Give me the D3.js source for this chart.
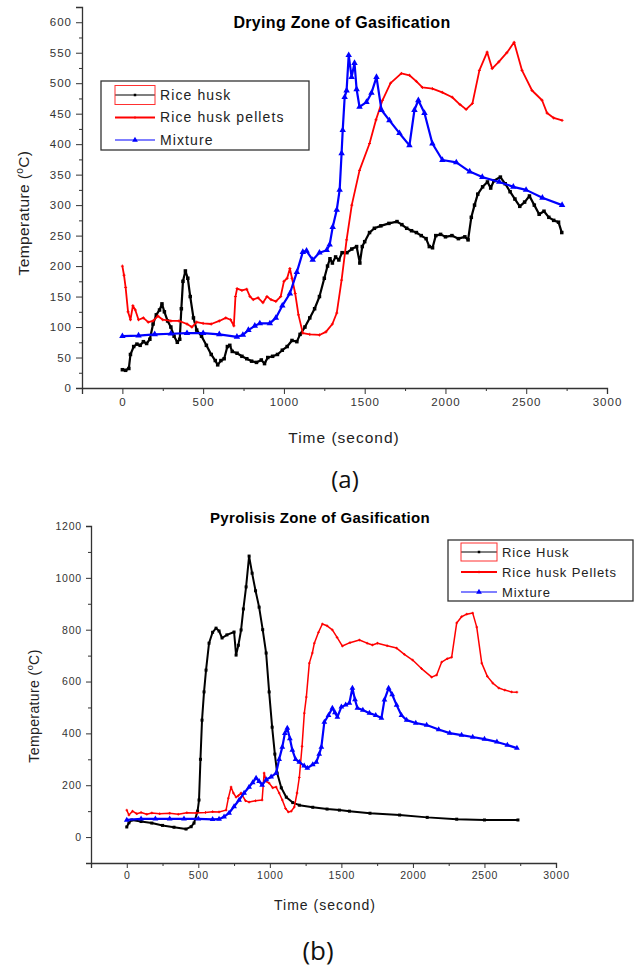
<!DOCTYPE html>
<html>
<head>
<meta charset="utf-8">
<script src="https://cdn.jsdelivr.net/npm/d3@7"></script>
<style>
  body { margin: 0; background: #fff; }
  svg, svg text { font-family: "Liberation Sans", Arial, sans-serif; }
  .tick text { fill: #333; }
</style>
</head>
<body>
<script>

// ---------------- DATA (time in s, temperature in degC) ----------------

// (a) Drying zone
const riceHuskA = [[0,30],[20,29],[40,32],[50,55],[70,68],[90,72],[110,70],[130,76],[150,73],[170,80],[190,105],[210,120],[230,128],[245,138],[260,125],[280,110],[300,100],[320,85],[340,75],[355,80],[365,130],[375,175],[390,192],[405,180],[420,150],[440,115],[460,95],[490,85],[520,70],[550,55],[575,45],[590,38],[610,45],[630,48],[650,68],[665,70],[680,60],[710,57],[740,52],[770,48],[800,44],[830,42],[860,46],[880,40],[900,50],[930,52],[960,55],[990,62],[1020,68],[1050,78],[1080,76],[1100,88],[1130,100],[1160,115],[1190,130],[1220,150],[1250,180],[1270,200],[1285,212],[1300,205],[1320,215],[1340,210],[1360,222],[1390,222],[1420,228],[1450,232],[1470,205],[1485,232],[1500,240],[1530,255],[1560,262],[1600,266],[1650,270],[1700,273],[1730,268],[1760,262],[1790,258],[1820,255],[1850,250],[1880,245],[1900,232],[1920,230],[1940,250],[1970,252],[2000,248],[2040,250],[2080,245],[2120,248],[2140,243],[2160,280],[2180,300],[2200,318],[2230,330],[2260,338],[2280,328],[2300,340],[2340,346],[2370,335],[2400,322],[2430,310],[2460,298],[2490,305],[2520,315],[2550,300],[2580,285],[2610,290],[2640,280],[2670,275],[2700,272],[2720,255]];

const pelletsA = [[0,200],[10,185],[20,165],[35,125],[50,112],[65,135],[80,128],[100,112],[130,115],[160,108],[190,110],[220,118],[250,112],[300,110],[350,110],[400,105],[430,100],[460,108],[500,106],[550,105],[600,110],[640,115],[670,112],[690,102],[700,150],[710,163],[740,160],[770,162],[790,150],[810,145],[840,148],[870,140],[895,150],[920,145],[950,142],[980,150],[1000,175],[1020,180],[1037,196],[1050,180],[1070,155],[1090,120],[1117,90],[1160,88],[1220,87],[1260,92],[1300,105],[1327,123],[1357,177],[1388,243],[1420,300],[1468,357],[1530,401],[1570,440],[1610,472],[1660,500],[1727,516],[1777,513],[1820,503],[1857,493],[1919,491],[1980,485],[2042,477],[2090,465],[2128,457],[2167,467],[2210,521],[2258,551],[2289,524],[2330,535],[2380,550],[2425,567],[2474,521],[2536,488],[2598,472],[2629,451],[2670,443],[2722,439]];

const mixtureA = [[0,85],[100,86],[200,88],[300,89],[400,90],[500,90],[600,88],[709,84],[746,87],[780,95],[820,102],[851,106],[913,106],[950,115],[990,135],[1037,155],[1080,190],[1117,223],[1140,225],[1178,210],[1220,222],[1265,226],[1283,235],[1302,264],[1327,292],[1345,325],[1357,385],[1364,423],[1376,477],[1388,488],[1401,546],[1419,510],[1437,533],[1450,490],[1468,461],[1511,469],[1542,484],[1573,510],[1604,456],[1653,439],[1715,418],[1777,398],[1808,456],[1832,472],[1870,451],[1919,401],[1981,374],[2067,370],[2150,355],[2228,346],[2333,338],[2420,330],[2499,325],[2600,312],[2722,300]];

// (b) Pyrolysis zone
const riceHuskB = [[0,39],[15,55],[35,66],[100,60],[175,54],[250,45],[330,38],[414,31],[450,40],[470,54],[495,100],[505,143],[515,300],[526,451],[540,560],[554,644],[575,748],[600,790],[624,806],[645,795],[666,768],[700,780],[750,791],[764,702],[780,740],[799,799],[815,880],[834,965],[855,1084],[876,1018],[900,950],[925,887],[950,800],[974,710],[995,560],[1016,424],[1035,320],[1051,247],[1080,190],[1115,154],[1160,133],[1206,123],[1300,115],[1400,108],[1486,104],[1556,100],[1700,92],[1907,85],[2100,76],[2306,69],[2500,66],[2734,66]];

const pelletsB = [[0,104],[15,85],[40,100],[70,90],[100,95],[140,88],[175,93],[230,90],[300,92],[360,88],[420,94],[484,93],[550,95],[600,98],[645,97],[694,104],[710,150],[729,193],[745,170],[764,154],[780,160],[799,170],[830,140],[855,135],[900,140],[946,143],[960,247],[975,215],[995,208],[1020,190],[1044,193],[1065,170],[1087,143],[1110,110],[1129,97],[1150,100],[1171,116],[1190,170],[1206,230],[1225,350],[1241,478],[1255,540],[1276,671],[1297,710],[1311,748],[1340,790],[1367,822],[1400,815],[1437,799],[1470,770],[1507,737],[1560,750],[1626,760],[1680,748],[1717,741],[1752,748],[1820,738],[1886,729],[1940,705],[1998,683],[2060,650],[2131,617],[2166,625],[2201,675],[2240,688],[2271,694],[2306,826],[2340,850],[2376,860],[2418,864],[2446,810],[2481,671],[2520,620],[2558,594],[2600,575],[2642,567],[2690,560],[2727,559]];

const mixtureB = [[0,66],[100,70],[200,70],[300,70],[400,70],[500,70],[600,68],[645,69],[680,78],[715,93],[750,118],[785,143],[820,170],[855,193],[880,210],[904,228],[925,215],[946,201],[975,222],[1009,232],[1044,247],[1065,300],[1087,347],[1105,400],[1122,420],[1140,380],[1157,336],[1180,300],[1206,289],[1240,275],[1262,266],[1300,280],[1325,289],[1345,320],[1360,347],[1381,444],[1410,470],[1437,498],[1455,480],[1472,463],[1500,502],[1530,510],[1556,517],[1577,575],[1595,530],[1612,498],[1650,490],[1696,478],[1740,470],[1780,459],[1801,529],[1830,575],[1855,550],[1886,509],[1920,470],[1956,451],[2020,440],[2096,432],[2180,415],[2257,401],[2340,393],[2418,386],[2500,378],[2587,367],[2660,355],[2727,343]];

// ticks
const xTicks = [0, 500, 1000, 1500, 2000, 2500, 3000];
const xMinor = [-250, 250, 750, 1250, 1750, 2250, 2750];
const yTicksA = [0, 50, 100, 150, 200, 250, 300, 350, 400, 450, 500, 550, 600];
const yMinorA = [25, 75, 125, 175, 225, 275, 325, 375, 425, 475, 525, 575, 625];
const yTicksB = [0, 200, 400, 600, 800, 1000, 1200];
const yMinorB = [-100, 100, 300, 500, 700, 900, 1100];

const namesA = ["Rice husk", "Rice husk pellets", "Mixture"];
const namesB = ["Rice Husk", "Rice husk Pellets", "Mixture"];
const colors = ["#000000", "#ff0000", "#0000ff"];

const svg = d3.select("body").append("svg")
    .attr("width", 640)
    .attr("height", 971);

// markers: square, small cross, triangle
function marker(g, type, x, y, color, s) {
    if (type == 0) {
        g.append("rect").attr("x", x - s/2).attr("y", y - s/2)
            .attr("width", s).attr("height", s).attr("fill", color);
    } else if (type == 1) {
        g.append("path").attr("d", `M${x-s/2},${y}H${x+s/2}M${x},${y-s/2}V${y+s/2}`)
            .attr("stroke", color).attr("stroke-width", 1);
    } else {
        g.append("path").attr("d", d3.symbol(d3.symbolTriangle, s*s*0.9)())
            .attr("transform", `translate(${x},${y})`).attr("fill", color);
    }
}

function drawChart(cfg) {
    const x = d3.scaleLinear().domain(cfg.xDomain).range(cfg.xRange);
    const y = d3.scaleLinear().domain(cfg.yDomain).range(cfg.yRange);
    const g = svg.append("g");
    const fmt = d3.format("d");
    const styleTicks = a => a.attr("font-family", null)
        .selectAll("text")
        .style("font-family", "'Liberation Sans', Arial, sans-serif")
        .style("font-size", cfg.tickFont + "px")
        .style("letter-spacing", cfg.tickLs + "px");

    // axes
    const yBase = cfg.yRange[0];
    g.append("g")
        .attr("transform", "translate(0," + yBase + ")")
        .call(d3.axisBottom(x).tickValues(xMinor).tickSize(3).tickFormat(""))
        .call(a => a.select(".domain").remove());
    g.append("g")
        .attr("transform", "translate(0," + yBase + ")")
        .call(d3.axisBottom(x).tickValues(xTicks).tickFormat(fmt).tickSizeOuter(0).tickSize(cfg.tick).tickPadding(cfg.pad))
        .call(styleTicks);
    g.append("g")
        .attr("transform", "translate(" + cfg.xRange[0] + ",0)")
        .call(d3.axisLeft(y).tickValues(cfg.yMinor).tickSize(3).tickFormat(""))
        .call(a => a.select(".domain").remove());
    g.append("g")
        .attr("transform", "translate(" + cfg.xRange[0] + ",0)")
        .call(d3.axisLeft(y).tickValues(cfg.yTicks).tickFormat(fmt).tickSizeOuter(0).tickSize(cfg.tick).tickPadding(cfg.pad))
        .call(styleTicks);
    g.selectAll(".domain").attr("stroke", "#333").attr("stroke-width", 1.3);
    g.selectAll(".tick line").attr("stroke", "#333");

    // series
    const line = d3.line().x(d => x(d[0])).y(d => y(d[1]));
    cfg.series.forEach((s, i) => {
        g.append("path")
            .datum(s)
            .attr("fill", "none")
            .attr("stroke", colors[i])
            .attr("stroke-width", cfg.widths[i])
            .attr("stroke-linejoin", "round")
            .attr("d", line);
        const mg = g.append("g");
        s.forEach(d => marker(mg, i, x(d[0]), y(d[1]), colors[i], cfg.msize[i]));
    });

    // title
    g.append("text")
        .attr("x", cfg.titleX).attr("y", cfg.titleY)
        .attr("text-anchor", "middle")
        .style("font-weight", "bold")
        .style("font-size", cfg.titleFont + "px")
        .style("letter-spacing", "0.3px")
        .text(cfg.title);

    // axis titles
    g.append("text")
        .attr("x", cfg.xLabel[0]).attr("y", cfg.xLabel[1])
        .attr("text-anchor", "middle")
        .attr("fill", "#222")
        .style("font-size", cfg.labelFont + "px")
        .style("letter-spacing", "1px")
        .text("Time (second)");
    const yl = g.append("text")
        .attr("transform", `translate(${cfg.yLabel[0]},${cfg.yLabel[1]}) rotate(-90)`)
        .attr("text-anchor", "middle")
        .attr("fill", "#222")
        .style("font-size", cfg.labelFont + "px")
        .style("letter-spacing", "0.4px");
    yl.append("tspan").text("Temperature (");
    yl.append("tspan").attr("dy", -cfg.labelFont * 0.4).style("font-size", (cfg.labelFont * 0.65) + "px").text("o");
    yl.append("tspan").attr("dy", cfg.labelFont * 0.4).text("C)");

    // legend
    const L = cfg.legend;
    g.append("rect")
        .attr("x", L.x).attr("y", L.y).attr("width", L.w).attr("height", L.h)
        .attr("fill", "#fff").attr("stroke", "#333").attr("stroke-width", 1.3);
    cfg.names.forEach((n, i) => {
        const ry = L.y + L.first + i * L.step;
        g.append("line")
            .attr("x1", L.x + L.s0).attr("x2", L.x + L.s1)
            .attr("y1", ry).attr("y2", ry)
            .attr("stroke", colors[i]).attr("stroke-width", i == 1 ? 2 : 1.2);
        marker(g, i, L.x + (L.s0 + L.s1) / 2, ry, colors[i], i == 2 ? 4 : 2.5);
        g.append("text")
            .attr("x", L.x + L.tx).attr("y", ry)
            .attr("dy", "0.35em")
            .attr("fill", "#222")
            .style("font-size", L.font + "px")
            .style("letter-spacing", L.ls + "px")
            .text(n);
    });
    // selection box around the first sample
    g.append("rect")
        .attr("x", L.x + L.s0).attr("y", L.y + L.first - L.selH / 2)
        .attr("width", L.s1 - L.s0).attr("height", L.selH)
        .attr("fill", "none").attr("stroke", "#ff3030").attr("stroke-width", 1);

    // caption
    svg.append("text")
        .attr("x", cfg.cap[0]).attr("y", cfg.cap[1])
        .attr("text-anchor", "middle")
        .style("font-family", "'Open Sans', 'DejaVu Sans', sans-serif")
        .style("font-size", cfg.cap[2] + "px")
        .attr("fill", "#111")
        .text(cfg.cap[3]);
}

drawChart({
    xDomain: [-250, 3000], xRange: [82, 607],
    yDomain: [0, 625], yRange: [388, 7],
    yTicks: yTicksA, yMinor: yMinorA,
    tick: 6, pad: 4, tickFont: 11.5, tickLs: 1,
    series: [riceHuskA, pelletsA, mixtureA],
    widths: [2.2, 1.8, 2.2], msize: [3.5, 3, 4.5],
    title: "Drying Zone of Gasification", titleX: 342, titleY: 28, titleFont: 16,
    xLabel: [344, 443], yLabel: [29, 213], labelFont: 15.5,
    names: namesA,
    legend: {x: 101, y: 81, w: 208, h: 69, first: 14, step: 22.5, s0: 14, s1: 54, tx: 59, font: 14, ls: 1.1, selH: 19},
    cap: [345, 488, 24, "(a)"]
});

drawChart({
    xDomain: [-250, 3000], xRange: [91, 556],
    yDomain: [-100, 1200], yRange: [863, 526],
    yTicks: yTicksB, yMinor: yMinorB,
    tick: 5, pad: 4, tickFont: 10.5, tickLs: 0.8,
    series: [riceHuskB, pelletsB, mixtureB],
    widths: [2, 1.5, 2.2], msize: [3, 2.6, 4],
    title: "Pyrolisis Zone of Gasification", titleX: 320, titleY: 523, titleFont: 15,
    xLabel: [325, 910], yLabel: [39, 706], labelFont: 14,
    names: namesB,
    legend: {x: 448, y: 540, w: 185, h: 61, first: 12, step: 20, s0: 13, s1: 49, tx: 54, font: 13, ls: 0.9, selH: 18},
    cap: [318, 960, 26, "(b)"]
});

</script>
</body>
</html>
